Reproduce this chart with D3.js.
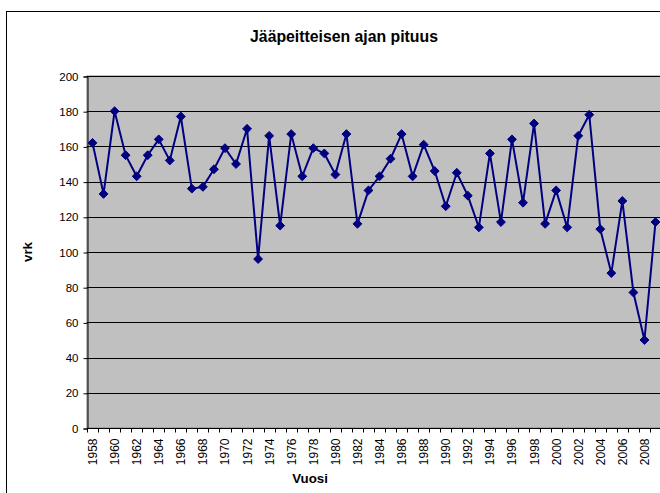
<!DOCTYPE html>
<html>
<head>
<meta charset="utf-8">
<script src="https://cdn.jsdelivr.net/npm/d3@7"></script>
<style>
  body { margin: 0; background: #fff; }
  text { font-family: "Liberation Sans", Arial, sans-serif; }
</style>
</head>
<body>
<svg id="chart" width="660" height="493"></svg>
<script>
const years = d3.range(1958, 2010)
const days = [162, 133, 180, 155, 143, 155, 164, 152, 177, 136,
              137, 147, 159, 150, 170, 96, 166, 115, 167, 143,
              159, 156, 144, 167, 116, 135, 143, 153, 167, 143,
              161, 146, 126, 145, 132, 114, 156, 117, 164, 128,
              173, 116, 135, 114, 166, 178, 113, 88, 129, 77,
              50, 117]
const yTicks = [0, 20, 40, 60, 80, 100, 120, 140, 160, 180, 200]

const title = "Jääpeitteisen ajan pituus",
      xTitle = "Vuosi",
      yTitle = "vrk"

const plot = { left: 87, top: 76, right: 661, bottom: 428 }

const svg = d3.select("#chart")

// chart area border
svg.append("rect")
    .attr("x", 6.5).attr("y", 11.5)
    .attr("width", 680).attr("height", 500)
    .attr("fill", "#fff")
    .attr("stroke", "#000")

const x = d3.scaleBand()
    .domain(years)
    .range([plot.left, plot.right])

const y = d3.scaleLinear()
    .domain([0, 200])
    .range([plot.bottom, plot.top])

svg.append("rect")
    .attr("x", plot.left).attr("y", plot.top)
    .attr("width", plot.right - plot.left)
    .attr("height", plot.bottom - plot.top)
    .attr("fill", "#c0c0c0")
    .attr("stroke", "#808080")

// gridlines
svg.append("g")
  .selectAll("line")
  .data(yTicks.slice(1))
  .enter()
  .append("line")
    .attr("x1", plot.left).attr("x2", plot.right)
    .attr("y1", d => Math.round(y(d)) + 0.5)
    .attr("y2", d => Math.round(y(d)) + 0.5)
    .attr("stroke", "#000")

// y axis
const yAxis = svg.append("g")
    .attr("transform", "translate(" + (plot.left + 0.5) + ",0.5)")
    .call(d3.axisLeft(y).tickValues(yTicks).tickSize(4).tickPadding(5))
yAxis.select(".domain").attr("stroke", "#000")
yAxis.selectAll("text").attr("font-size", "11.5px").attr("fill", "#000")
    .attr("font-family", "Liberation Sans, Arial, sans-serif")

// x axis: ticks on category boundaries, labels on every other year
const xg = svg.append("g")
    .attr("transform", "translate(0," + (plot.bottom + 0.5) + ")")
xg.append("line")
    .attr("x1", plot.left).attr("x2", plot.right)
    .attr("stroke", "#000")
xg.selectAll(".tick")
    .data(years.concat([2010]))
    .enter()
    .append("line")
      .attr("class", "tick")
      .attr("x1", (d, i) => Math.round(plot.left + i * x.step()) + 0.5)
      .attr("x2", (d, i) => Math.round(plot.left + i * x.step()) + 0.5)
      .attr("y1", 0).attr("y2", 4)
      .attr("stroke", "#000")
xg.selectAll(".lbl")
    .data(years.filter(d => d % 2 === 0))
    .enter()
    .append("text")
      .attr("class", "lbl")
      .attr("transform", d => "translate(" + (x(d) + x.bandwidth() / 2 + 4.5) + ",10) rotate(-90)")
      .attr("text-anchor", "end")
      .attr("font-size", "12px")
      .text(d => d)

// series
const pts = years.map((d, i) => [x(d) + x.bandwidth() / 2, y(days[i])])

svg.append("path")
    .attr("d", d3.line()(pts))
    .attr("fill", "none")
    .attr("stroke", "#000080")
    .attr("stroke-width", 2)

svg.append("g")
  .selectAll("path")
  .data(pts)
  .enter()
  .append("path")
    .attr("d", d3.symbol(d3.symbolDiamond2, 50))
    .attr("transform", d => "translate(" + d[0] + "," + d[1] + ")")
    .attr("fill", "#000080")
    .attr("stroke", "#000080")

// titles
svg.append("text")
    .attr("x", 344).attr("y", 42)
    .attr("text-anchor", "middle")
    .attr("font-size", "15.8px")
    .attr("font-weight", "bold")
    .text(title)

svg.append("text")
    .attr("x", 310).attr("y", 483)
    .attr("text-anchor", "middle")
    .attr("font-size", "13.3px")
    .attr("font-weight", "bold")
    .text(xTitle)

svg.append("text")
    .attr("transform", "translate(32,252) rotate(-90)")
    .attr("text-anchor", "middle")
    .attr("font-size", "13.3px")
    .attr("font-weight", "bold")
    .text(yTitle)
</script>
</body>
</html>
